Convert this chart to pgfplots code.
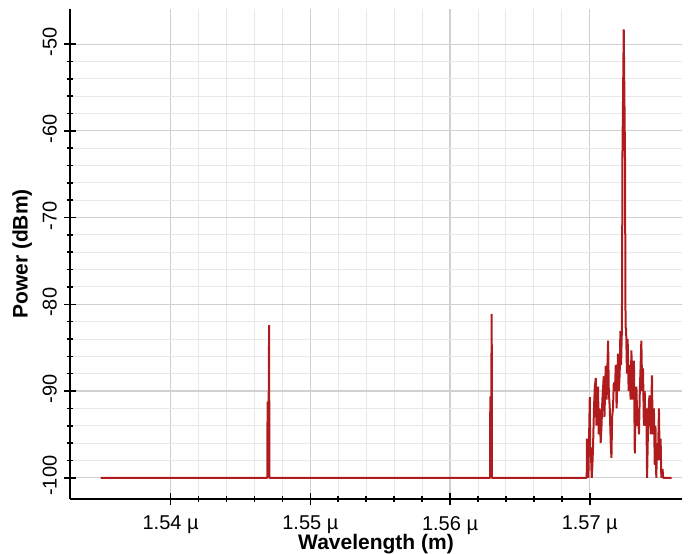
\documentclass[border=0pt]{standalone}
\usepackage{fontspec}
\setmainfont{Liberation Sans}
\usepackage{pgfplots}
\pgfplotsset{compat=1.18}
\definecolor{spec}{RGB}{176,28,30}
\definecolor{gmaj}{RGB}{208,208,208}
\definecolor{gmin}{RGB}{232,232,232}

\begin{document}
\begin{tikzpicture}
% keep the page the same shape as the reference
\useasboundingbox (-35pt,-27pt) rectangle (312pt,249.5pt);
\begin{axis}[
  scale only axis, width=306pt, height=245pt,
  xmin=1532.8, xmax=1576.6, ymin=-102.45, ymax=-45.95,
  axis x line=bottom, axis y line=left,
  axis line style={-, black, line width=0.9pt},
  xtick={1540,1550,1560,1570},
  xticklabels={1.54 µ,1.55 µ,1.56 µ,1.57 µ},
  minor x tick num=4,
  ytick={-100,-90,-80,-70,-60,-50},
  yticklabels={-100,-90,-80,-70,-60,-50},
  minor y tick num=4,
  tick align=center, major tick length=6pt, minor tick length=3pt,
  tick style={black, line width=0.8pt},
  grid=both,
  major grid style={gmaj, line width=0.6pt},
  minor grid style={gmin, line width=0.5pt},
  tick label style={font=\fontsize{10}{12}\selectfont},
  xticklabel style={anchor=north, yshift=-2pt},
  yticklabel style={rotate=90, anchor=south, xshift=1pt},
  label style={font=\fontsize{10.5}{12}\selectfont\bfseries},
  xlabel={Wavelength (m)},
  ylabel={Power (dBm)},
  xlabel style={at={(axis description cs:0.5,-0.092)}, anchor=center},
  ylabel style={at={(axis description cs:-0.078,0.5)}, anchor=center},
]
\addplot[spec, line width=1pt, line join=bevel, mark=none] coordinates {
(1535.0,-100) (1546.92,-100) (1546.94,-91.3) (1547.02,-91.3) (1547.05,-82.4) (1547.07,-100)
(1562.86,-100) (1562.88,-90.7) (1562.95,-90.7) (1562.98,-81.1) (1563.00,-100)
(1569.78,-100) (1569.80,-95.5) (1569.83,-99) (1569.86,-96) (1569.90,-100)
(1570.00,-90.7) (1570.03,-97) (1570.07,-96.5) (1570.14,-100) (1570.20,-98)
(1570.24,-96) (1570.30,-92) (1570.36,-89.5) (1570.43,-88.5) (1570.47,-94)
(1570.52,-90) (1570.59,-89.5) (1570.64,-95) (1570.71,-92) (1570.78,-96)
(1570.84,-94) (1570.90,-91) (1571.00,-88.3) (1571.05,-93) (1571.14,-87.1)
(1571.20,-91) (1571.31,-84.2) (1571.36,-90) (1571.43,-92) (1571.50,-96)
(1571.55,-97.7) (1571.60,-93) (1571.66,-92) (1571.72,-89) (1571.80,-90)
(1571.86,-87) (1571.92,-92) (1572.02,-85.7) (1572.08,-90) (1572.14,-88)
(1572.19,-83.1) (1572.24,-87) (1572.30,-82.7) (1572.34,-62.5) (1572.43,-48.3)
(1572.52,-63) (1572.56,-82.7) (1572.60,-82.8) (1572.66,-88) (1572.71,-84)
(1572.78,-90) (1572.86,-87) (1572.92,-91) (1572.98,-85.3) (1573.04,-91)
(1573.10,-88) (1573.16,-86.5) (1573.22,-97.2) (1573.28,-92) (1573.34,-89.5)
(1573.40,-94) (1573.45,-92) (1573.52,-95) (1573.58,-90) (1573.64,-87)
(1573.69,-84.2) (1573.75,-90) (1573.81,-87.4) (1573.87,-94) (1573.93,-90)
(1573.99,-94) (1574.05,-92) (1574.10,-100) (1574.17,-94) (1574.24,-91)
(1574.29,-90.5) (1574.36,-95) (1574.45,-88.2) (1574.50,-95) (1574.59,-92)
(1574.65,-98.5) (1574.70,-94) (1574.76,-100) (1574.82,-96) (1574.88,-98)
(1574.95,-92) (1575.00,-98) (1575.07,-95.5) (1575.12,-100) (1575.21,-99)
(1575.25,-100) (1575.86,-100)
};
\end{axis}
\end{tikzpicture}
\end{document}
